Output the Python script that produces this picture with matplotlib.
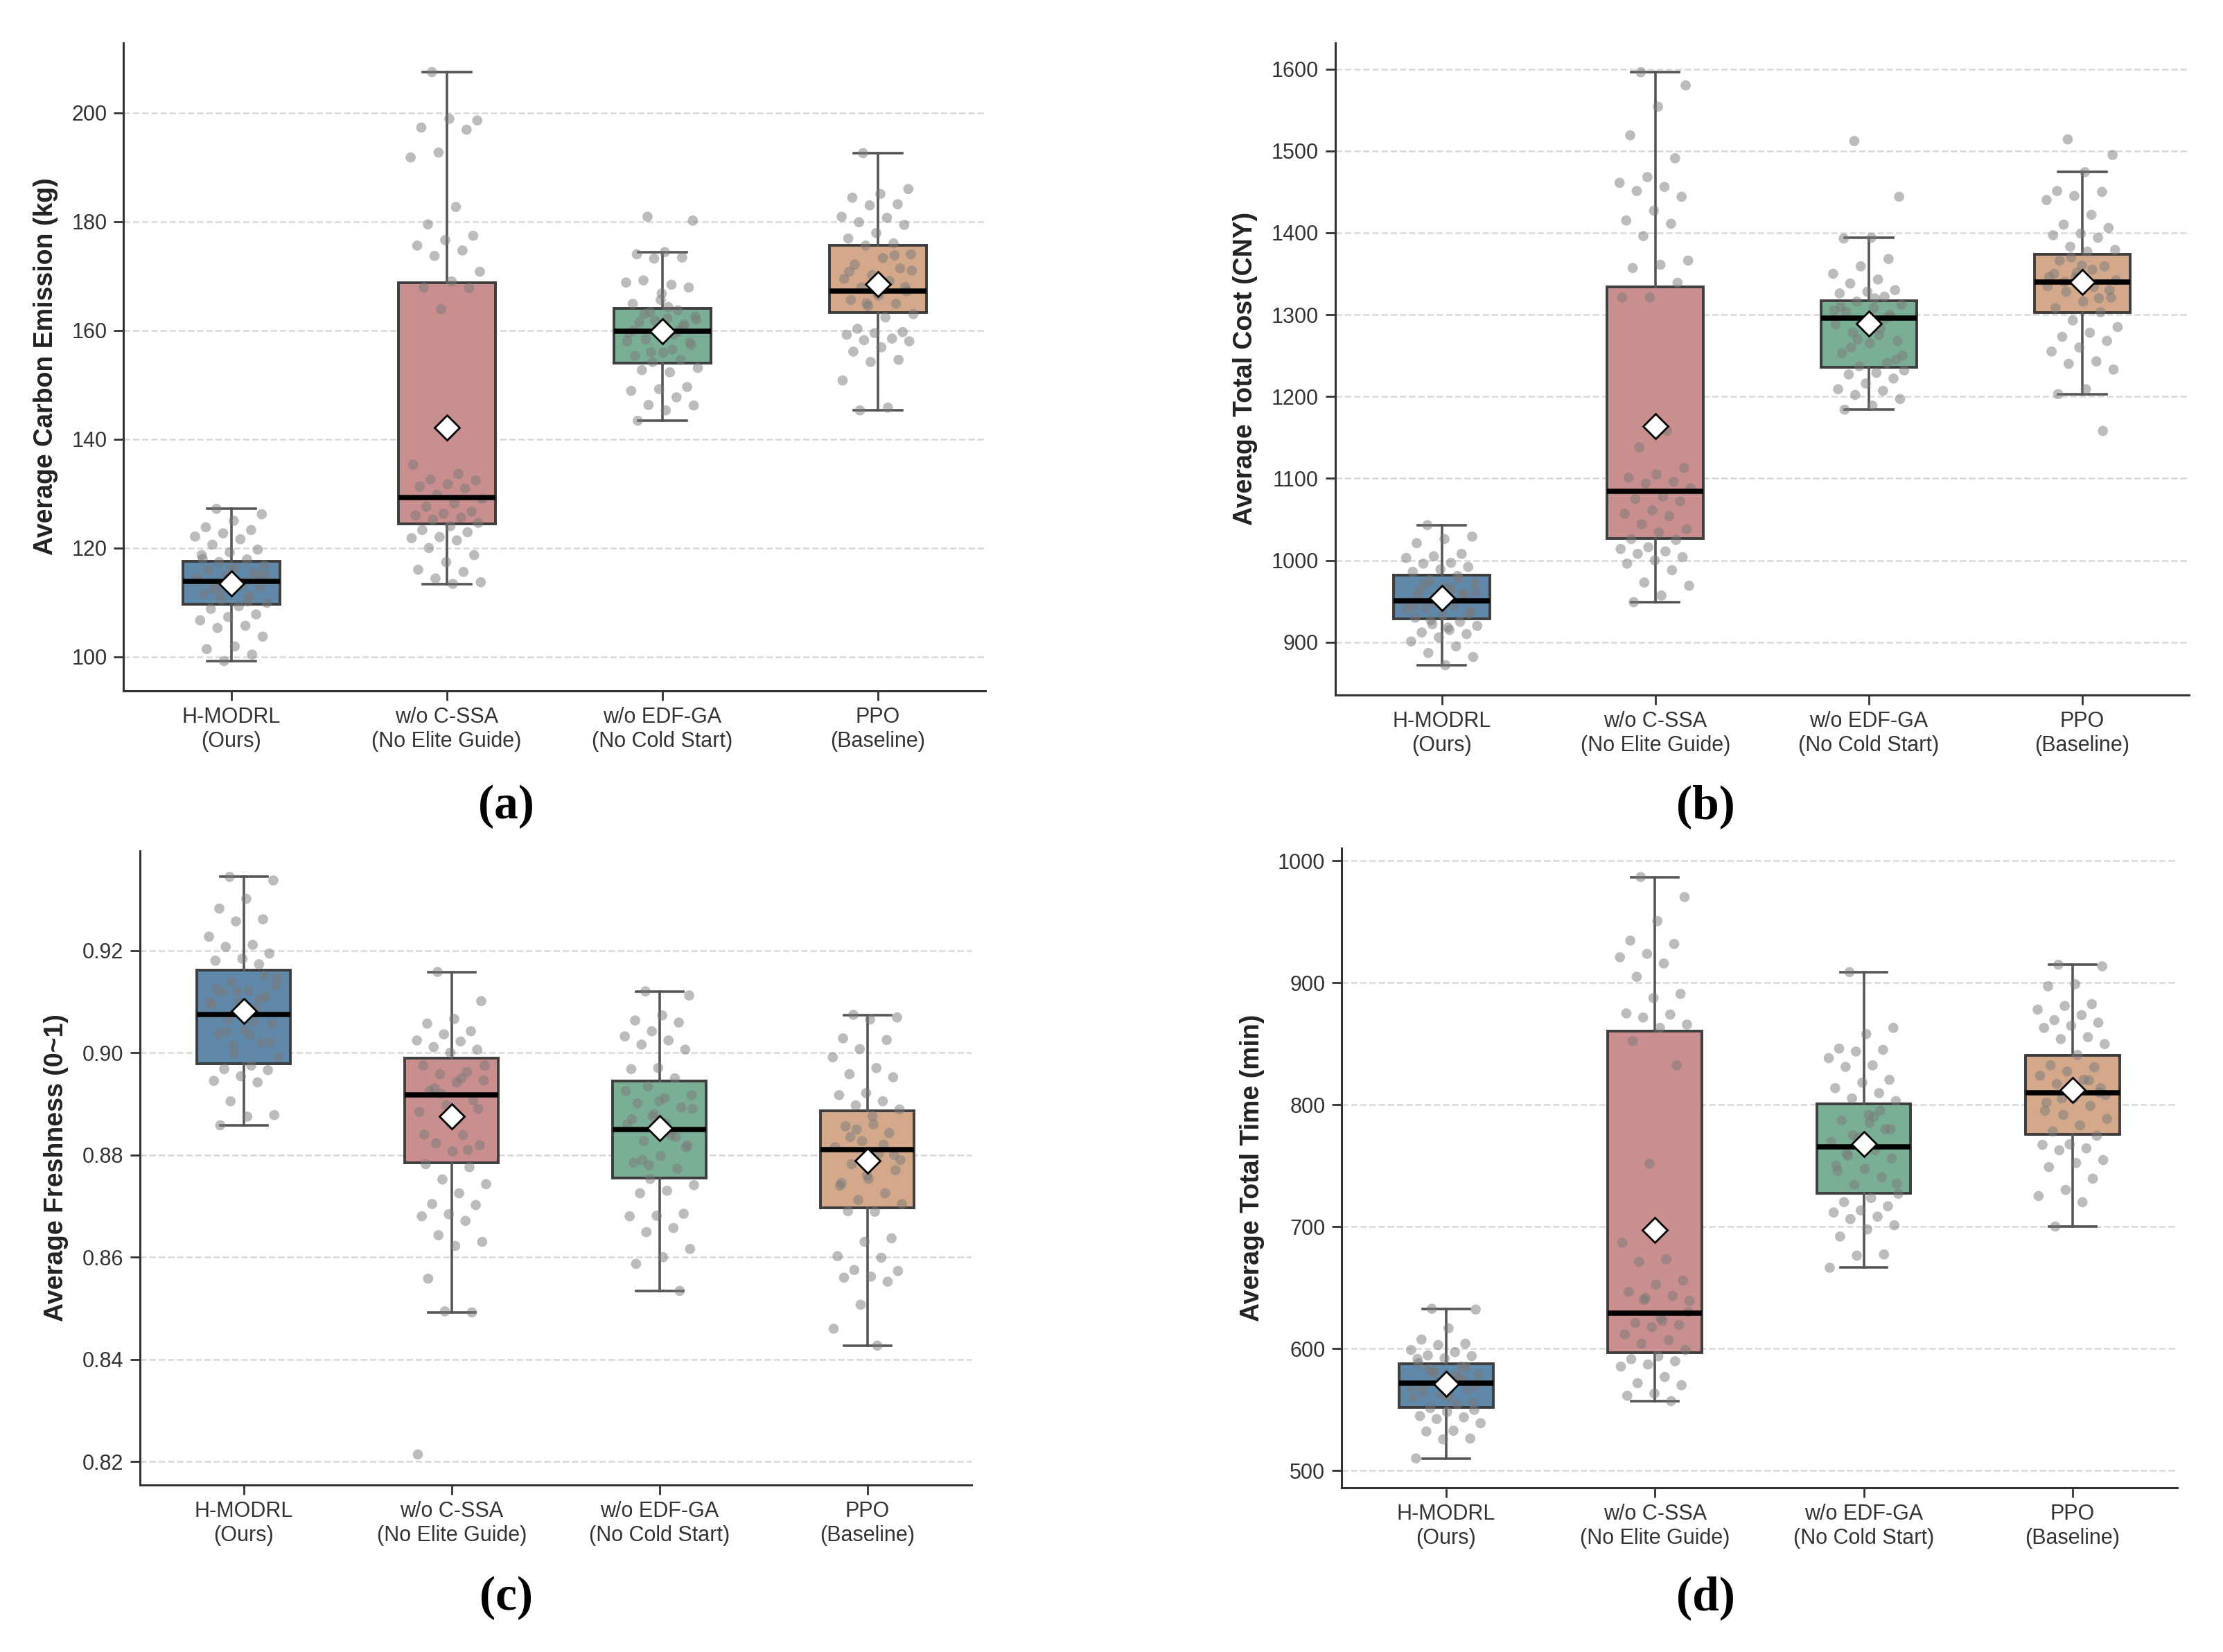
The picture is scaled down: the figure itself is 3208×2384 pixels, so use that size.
import numpy as np
import matplotlib
matplotlib.use("Agg")
import matplotlib.pyplot as plt
from matplotlib.ticker import MultipleLocator, FormatStrFormatter

plt.rcParams['font.family'] = ['Liberation Sans', 'DejaVu Sans']

methods = ["H-MODRL\n(Ours)", "w/o C-SSA\n(No Elite Guide)",
           "w/o EDF-GA\n(No Cold Start)", "PPO\n(Baseline)"]
box_colors = ["#5f88a9", "#c98e8e", "#7baf95", "#d4a98b"]

# ---------------- (a) Average Carbon Emission (kg) ----------------
carbon_whislo = [99.2, 113.4, 143.4, 145.3]
carbon_q1 = [109.6, 124.4, 154.0, 163.3]
carbon_med = [113.9, 129.3, 159.9, 167.3]
carbon_q3 = [117.5, 168.8, 164.1, 175.6]
carbon_whishi = [127.2, 207.5, 174.4, 192.6]
carbon_mean = [113.5, 142.2, 159.8, 168.5]
carbon_pts = [
    [127.2, 126.2, 125.0, 123.8, 123.3, 122.7, 122.1, 121.6, 120.6, 119.7, 119.2, 118.7, 117.9,
     117.4, 116.8, 116.4, 115.9, 115.3, 114.7, 114.1, 113.7, 113.4, 112.8, 112.2, 111.6, 111.1,
     110.5, 109.9, 109.3, 108.8, 107.8, 107.3, 106.7, 105.7, 105.3, 103.7, 101.9, 101.4, 100.4,
     99.2, 114.5, 113.0, 112.5, 115.0, 116.0, 118.0, 110.2, 111.8, 114.9, 113.2],
    [207.5, 198.6, 198.9, 197.3, 196.9, 192.7, 191.8, 182.7, 179.5, 177.4, 176.6, 175.6, 174.7,
     173.7, 170.8, 169.0, 167.9, 167.8, 163.9, 135.3, 133.6, 132.6, 132.4, 131.7, 131.3, 130.9,
     129.8, 129.0, 128.2, 127.6, 126.7, 126.3, 126.0, 125.6, 125.2, 124.6, 124.0, 123.3, 122.9,
     122.0, 121.8, 121.4, 120.0, 118.7, 117.4, 116.0, 115.6, 114.4, 113.7, 113.4],
    [180.9, 180.2, 174.4, 174.0, 173.4, 173.2, 168.8, 168.4, 169.2, 167.9, 165.6, 164.9, 163.7,
     163.4, 162.6, 162.2, 161.5, 161.1, 160.3, 159.5, 159.2, 158.4, 157.3, 155.9, 155.3, 154.6,
     154.2, 153.1, 152.3, 152.7, 149.6, 149.2, 148.9, 147.7, 146.3, 146.2, 145.3, 143.4, 160.8,
     161.8, 158.0, 156.5, 163.0, 157.8, 166.8, 160.0, 159.9, 156.0, 162.0, 164.3],
    [192.6, 186.0, 185.1, 184.4, 183.2, 183.0, 180.9, 180.7, 179.9, 179.4, 177.9, 176.9, 176.0,
     175.6, 174.0, 173.3, 172.1, 171.4, 170.2, 169.5, 169.1, 167.9, 167.2, 166.4, 165.6, 164.9,
     164.5, 163.0, 162.4, 160.3, 159.7, 159.5, 159.2, 158.5, 158.2, 158.0, 156.9, 156.1, 154.6,
     154.2, 150.8, 145.8, 145.3, 168.0, 166.8, 170.8, 173.8, 165.0, 171.0, 167.5],
]

# ---------------- (b) Average Total Cost (CNY) ----------------
cost_whislo = [872, 949, 1184, 1203]
cost_q1 = [929, 1027, 1236, 1303]
cost_med = [951, 1084, 1296, 1340]
cost_q3 = [982, 1334, 1317, 1374]
cost_whishi = [1043, 1596, 1394, 1474]
cost_mean = [954, 1164, 1289, 1340]
cost_pts = [
    [1043, 1029, 1026, 1021, 1008, 1005, 1003, 997, 996, 992, 989, 986, 981, 976, 973, 968, 963,
     958, 952, 950, 945, 942, 938, 933, 930, 925, 922, 920, 915, 912, 910, 906, 901, 895, 887, 882,
     872, 955, 960, 948, 940, 965, 970, 935, 953, 944, 978, 927, 961, 918],
    [1596, 1580, 1554, 1519, 1491, 1468, 1461, 1456, 1451, 1444, 1427, 1415, 1411, 1396, 1366,
     1361, 1357, 1339, 1321, 1321, 1158, 1138, 1113, 1105, 1101, 1096, 1094, 1088, 1078, 1075,
     1072, 1061, 1057, 1054, 1044, 1038, 1034, 1026, 1025, 1016, 1014, 1011, 1008, 1004, 1000,
     996, 988, 973, 969, 957, 949],
    [1512, 1444, 1394, 1393, 1368, 1359, 1350, 1343, 1338, 1330, 1328, 1326, 1322, 1316, 1312,
     1308, 1303, 1298, 1293, 1288, 1283, 1278, 1268, 1265, 1253, 1241, 1237, 1232, 1229, 1227,
     1222, 1216, 1209, 1207, 1202, 1197, 1189, 1184, 1300, 1290, 1305, 1275, 1260, 1245, 1285,
     1310, 1295, 1270, 1250, 1320],
    [1514, 1495, 1474, 1451, 1450, 1445, 1440, 1422, 1410, 1406, 1399, 1397, 1394, 1383, 1379,
     1377, 1366, 1359, 1351, 1346, 1334, 1328, 1321, 1316, 1308, 1303, 1293, 1285, 1278, 1273,
     1268, 1260, 1255, 1243, 1240, 1233, 1209, 1203, 1158, 1345, 1335, 1355, 1340, 1330, 1360,
     1350, 1320, 1370, 1342, 1338],
]

# ---------------- (c) Average Freshness (0~1) ----------------
fresh_whislo = [0.8858, 0.8492, 0.8534, 0.8427]
fresh_q1 = [0.8979, 0.8784, 0.8755, 0.8696]
fresh_med = [0.9075, 0.8918, 0.8850, 0.8811]
fresh_q3 = [0.9161, 0.8990, 0.8944, 0.8886]
fresh_whishi = [0.9344, 0.9158, 0.9120, 0.9074]
fresh_mean = [0.9081, 0.8875, 0.8853, 0.8789]
fresh_pts = [
    [0.9344, 0.9337, 0.9301, 0.9282, 0.9261, 0.9257, 0.9227, 0.9211, 0.9207, 0.9194, 0.9184,
     0.9180, 0.9173, 0.9139, 0.9130, 0.9122, 0.9118, 0.9110, 0.9099, 0.9093, 0.9085, 0.9065,
     0.9057, 0.9044, 0.9036, 0.9020, 0.8999, 0.8991, 0.8975, 0.8968, 0.8966, 0.8954, 0.8945,
     0.8942, 0.8905, 0.8878, 0.8875, 0.8858, 0.9150, 0.9120, 0.9100, 0.9060, 0.9040, 0.9020,
     0.9080, 0.9125, 0.9105, 0.9015, 0.9145, 0.9035],
    [0.9158, 0.9101, 0.9066, 0.9057, 0.9042, 0.9036, 0.9024, 0.9022, 0.9011, 0.9006, 0.9000,
     0.8975, 0.8962, 0.8958, 0.8946, 0.8942, 0.8925, 0.8907, 0.8897, 0.8884, 0.8839, 0.8823,
     0.8819, 0.8807, 0.8782, 0.8776, 0.8752, 0.8743, 0.8725, 0.8704, 0.8702, 0.8684, 0.8680,
     0.8671, 0.8643, 0.8630, 0.8622, 0.8558, 0.8492, 0.8494, 0.8214, 0.8950, 0.8930, 0.8890,
     0.8860, 0.8840, 0.8810, 0.8920, 0.8975, 0.8870],
    [0.9120, 0.9112, 0.9073, 0.9063, 0.9059, 0.9042, 0.9032, 0.9024, 0.9016, 0.9006, 0.8970,
     0.8968, 0.8950, 0.8934, 0.8917, 0.8911, 0.8901, 0.8893, 0.8880, 0.8860, 0.8839, 0.8827,
     0.8819, 0.8798, 0.8785, 0.8773, 0.8753, 0.8741, 0.8730, 0.8725, 0.8685, 0.8681, 0.8680,
     0.8657, 0.8649, 0.8616, 0.8600, 0.8587, 0.8534, 0.8875, 0.8925, 0.8845, 0.8790, 0.8815,
     0.8905, 0.8870, 0.8835, 0.8780, 0.8890, 0.8862],
    [0.9074, 0.9069, 0.9065, 0.9028, 0.9025, 0.9007, 0.8991, 0.8970, 0.8958, 0.8952, 0.8921,
     0.8917, 0.8905, 0.8897, 0.8889, 0.8876, 0.8856, 0.8843, 0.8827, 0.8815, 0.8802, 0.8782,
     0.8770, 0.8753, 0.8745, 0.8725, 0.8712, 0.8704, 0.8689, 0.8690, 0.8637, 0.8630, 0.8602,
     0.8599, 0.8575, 0.8573, 0.8562, 0.8560, 0.8552, 0.8507, 0.8460, 0.8427, 0.8835, 0.8800,
     0.8760, 0.8740, 0.8820, 0.8850, 0.8790, 0.8860],
]

# ---------------- (d) Average Total Time (min) ----------------
time_whislo = [509.9, 556.9, 666.3, 700.1]
time_q1 = [551.8, 596.8, 727.3, 775.7]
time_med = [571.6, 629.2, 765.2, 809.5]
time_q3 = [587.6, 860.6, 800.6, 840.5]
time_whishi = [632.6, 986.7, 908.7, 914.8]
time_mean = [570.9, 697.0, 767.6, 811.9]
time_pts = [
    [632.6, 632.0, 616.6, 607.4, 604.0, 602.9, 598.8, 597.1, 594.4, 593.8, 592.0, 591.5, 585.2,
     581.8, 578.4, 575.0, 569.9, 566.5, 563.1, 559.6, 554.5, 551.1, 549.7, 548.0, 544.6, 543.6,
     542.2, 538.8, 532.6, 532.0, 526.2, 525.5, 509.9, 575.0, 580.0, 570.0, 560.0, 565.0, 585.0,
     572.0, 568.0, 578.0, 583.0, 556.0, 562.0, 588.0, 574.0],
    [986.7, 970.3, 950.6, 934.6, 931.8, 923.7, 920.9, 915.8, 904.9, 890.9, 887.5, 874.9, 873.9,
     871.5, 865.7, 863.0, 852.1, 832.3, 751.6, 686.8, 673.2, 671.1, 655.8, 652.4, 646.6, 643.2,
     641.5, 639.1, 622.7, 621.0, 619.3, 617.6, 611.5, 606.7, 604.0, 598.8, 593.7, 591.3, 589.6,
     586.9, 585.2, 576.7, 571.6, 569.9, 563.1, 561.3, 556.9, 640.0, 630.0, 625.0],
    [908.7, 863.0, 857.9, 846.0, 845.0, 843.6, 838.2, 832.3, 831.0, 820.4, 818.1, 813.6, 809.5,
     805.1, 803.0, 791.7, 787.0, 779.8, 773.0, 769.5, 762.7, 758.2, 755.8, 747.3, 745.6, 740.5,
     734.4, 726.9, 723.5, 720.1, 716.7, 713.3, 711.6, 708.2, 706.2, 701.1, 697.7, 691.9, 677.2,
     676.2, 666.3, 790.0, 760.0, 780.0, 770.0, 750.0, 795.0, 775.0, 735.0, 785.0],
    [914.8, 913.5, 898.8, 897.1, 882.5, 881.0, 878.0, 873.5, 869.4, 867.3, 864.7, 863.0, 855.4,
     853.8, 849.7, 840.8, 832.3, 830.6, 827.2, 823.8, 820.4, 817.0, 813.6, 805.1, 801.7, 799.1,
     791.7, 788.3, 783.1, 778.0, 774.6, 767.5, 767.1, 764.2, 762.6, 754.6, 752.2, 748.8, 739.3,
     730.1, 725.1, 720.0, 700.1, 810.0, 815.0, 795.0, 820.0, 805.0, 808.0],
]

panels = [
    dict(rect=[0.0555, 0.582, 0.3878, 0.3922], ylabel="Average Carbon Emission (kg)",
         stats=(carbon_whislo, carbon_q1, carbon_med, carbon_q3, carbon_whishi, carbon_mean),
         pts=carbon_pts, step=20, fmt="%d", tag="(a)", tagpos=(0.2277, 0.5116), ylim=None),
    dict(rect=[0.6006, 0.5794, 0.3841, 0.3948], ylabel="Average Total Cost (CNY)",
         stats=(cost_whislo, cost_q1, cost_med, cost_q3, cost_whishi, cost_mean),
         pts=cost_pts, step=100, fmt="%d", tag="(b)", tagpos=(0.7672, 0.5116), ylim=None),
    dict(rect=[0.0629, 0.1013, 0.3741, 0.3837], ylabel="Average Freshness (0~1)",
         stats=(fresh_whislo, fresh_q1, fresh_med, fresh_q3, fresh_whishi, fresh_mean),
         pts=fresh_pts, step=0.02, fmt="%.2f", tag="(c)", tagpos=(0.2277, 0.0326),
         ylim=(0.8155, 0.9395)),
    dict(rect=[0.6035, 0.0996, 0.3758, 0.3871], ylabel="Average Total Time (min)",
         stats=(time_whislo, time_q1, time_med, time_q3, time_whishi, time_mean),
         pts=time_pts, step=100, fmt="%d", tag="(d)", tagpos=(0.7672, 0.0326), ylim=None),
]

fig = plt.figure(figsize=(16.04, 11.92), dpi=200)

for p in panels:
    ax = fig.add_axes(p["rect"])
    wlo, q1, med, q3, whi, mean = p["stats"]
    bstats = []
    for i in range(4):
        bstats.append(dict(whislo=wlo[i], q1=q1[i], med=med[i], q3=q3[i],
                           whishi=whi[i], mean=mean[i], fliers=[]))
    bp = ax.bxp(bstats, positions=range(4), widths=0.45, patch_artist=True,
                showmeans=True, showfliers=False,
                boxprops=dict(edgecolor="#3d3d3d", linewidth=1.4),
                whiskerprops=dict(color="#555555", linewidth=1.3),
                capprops=dict(color="#555555", linewidth=1.3),
                medianprops=dict(color="black", linewidth=2.7, zorder=4),
                meanprops=dict(marker="D", markerfacecolor="white", markeredgecolor="black",
                               markersize=9, markeredgewidth=1.0, zorder=5))
    for patch, c in zip(bp["boxes"], box_colors):
        patch.set_facecolor(c)
        patch.set_zorder(2)
    for i, vals in enumerate(p["pts"]):
        n = len(vals)
        offs = ((np.arange(n) * 0.61803398875 + 0.3) % 1.0 - 0.5) * 2 * 0.17
        ax.scatter(i + offs, vals, s=28, color="#7a7a7a", alpha=0.5,
                   edgecolors="none", zorder=3)
    ax.set_xlim(-0.5, 3.5)
    ax.margins(y=0.05)
    if p["ylim"] is not None:
        ax.set_ylim(*p["ylim"])
    ax.yaxis.set_major_locator(MultipleLocator(p["step"]))
    ax.yaxis.set_major_formatter(FormatStrFormatter(p["fmt"]))
    ax.set_xticks(range(4))
    ax.set_xticklabels(methods, fontsize=11, color="#333333")
    ax.tick_params(axis="y", labelsize=11, labelcolor="#333333")
    ax.tick_params(axis="both", direction="out", length=5, width=1.0, color="#333333")
    ax.set_ylabel(p["ylabel"], fontsize=13.5, fontweight="bold", color="#222222", labelpad=7)
    ax.yaxis.grid(True, linestyle="--", color="#d9d9d9", linewidth=0.9)
    ax.set_axisbelow(True)
    for side in ("top", "right"):
        ax.spines[side].set_visible(False)
    for side in ("left", "bottom"):
        ax.spines[side].set_linewidth(1.1)
        ax.spines[side].set_color("#333333")
    fig.text(p["tagpos"][0], p["tagpos"][1], p["tag"], ha="center", va="center",
             fontsize=25, fontweight="bold", family="Liberation Serif")

fig.savefig("out.png", dpi=200)
